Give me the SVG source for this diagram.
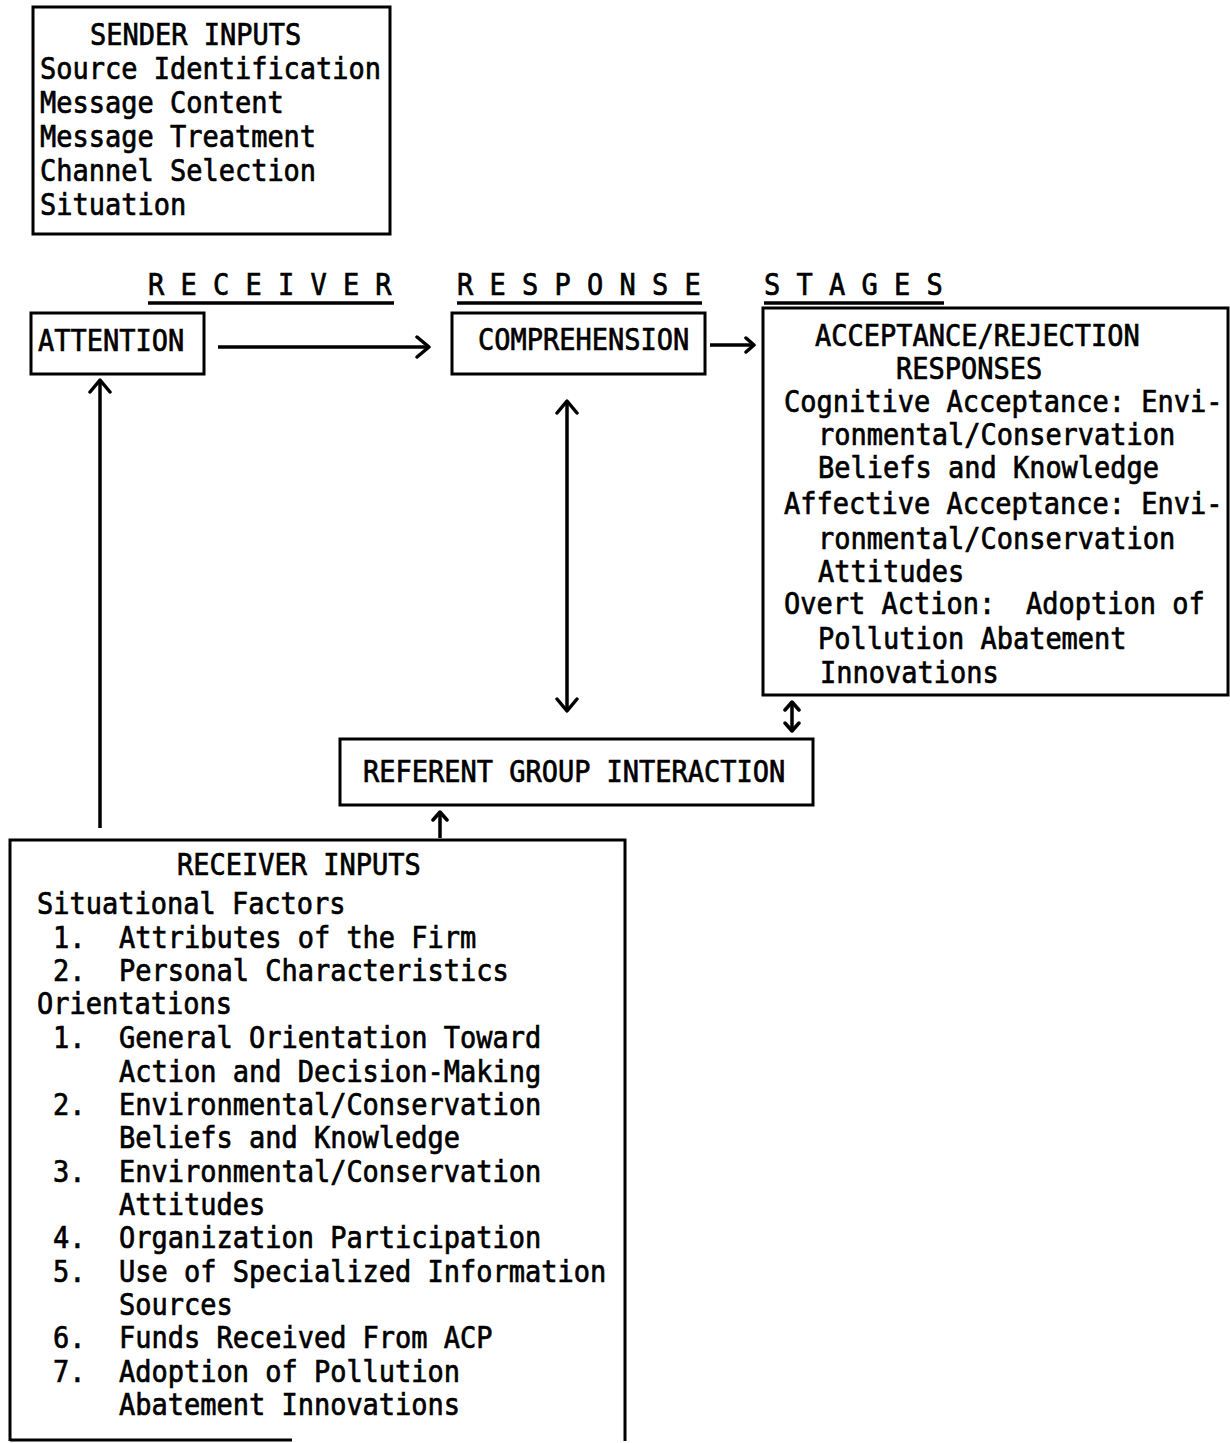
<svg xmlns="http://www.w3.org/2000/svg" width="1230" height="1443" viewBox="0 0 1230 1443">
<defs>
<style>
.box{fill:none;stroke:#000;stroke-width:3}
.ln{fill:none;stroke:#000;stroke-width:3.5}
text{font-family:"DejaVu Sans Mono","Liberation Mono",monospace;font-size:30px;fill:#000;stroke:#000;stroke-width:0.7;transform-box:fill-box;transform-origin:0% 100%;transform:scaleX(0.9)}
</style>
<marker id="ah" viewBox="-14 -12 16 24" markerWidth="16" markerHeight="24" refX="0" refY="0" orient="auto-start-reverse" markerUnits="userSpaceOnUse">
<path d="M-12,-10 L0,0 L-12,10" fill="none" stroke="#000" stroke-width="3.5" stroke-linecap="round" stroke-linejoin="round"/>
</marker>
<marker id="ahs" viewBox="-10 -9 12 18" markerWidth="12" markerHeight="18" refX="0" refY="0" orient="auto-start-reverse" markerUnits="userSpaceOnUse">
<path d="M-8,-7 L0,0 L-8,7" fill="none" stroke="#000" stroke-width="3.5" stroke-linecap="round" stroke-linejoin="round"/>
</marker>
</defs>
<rect width="1230" height="1443" fill="#fff"/>

<g id="sender-inputs">
<rect class="box" x="33" y="7" width="357" height="227"/>
<text x="90" y="45">SENDER INPUTS</text>
<text x="40" y="79">Source Identification</text>
<text x="40" y="113">Message Content</text>
<text x="40" y="147">Message Treatment</text>
<text x="40" y="181">Channel Selection</text>
<text x="40" y="215">Situation</text>
</g>

<g id="stage-header">
<text x="148" y="295">R E C E I V E R</text>
<text x="457" y="295">R E S P O N S E</text>
<text x="764" y="295">S T A G E S</text>
<line class="ln" x1="148" y1="303" x2="394" y2="303"/>
<line class="ln" x1="457" y1="303" x2="702" y2="303"/>
<line class="ln" x1="764" y1="303" x2="944" y2="303"/>
</g>

<g id="attention">
<rect class="box" x="31" y="313" width="173" height="61"/>
<text x="38" y="351">ATTENTION</text>
</g>

<g id="comprehension">
<rect class="box" x="452" y="313" width="253" height="61"/>
<text x="478" y="350">COMPREHENSION</text>
</g>

<g id="acceptance-rejection">
<rect class="box" x="763" y="308" width="465" height="387"/>
<text x="815" y="346">ACCEPTANCE/REJECTION</text>
<text x="896" y="379">RESPONSES</text>
<text x="784" y="412">Cognitive Acceptance: Envi-</text>
<text x="818" y="445">ronmental/Conservation</text>
<text x="818" y="478">Beliefs and Knowledge</text>
<text x="784" y="514">Affective Acceptance: Envi-</text>
<text x="818" y="549">ronmental/Conservation</text>
<text x="818" y="582">Attitudes</text>
<text x="784" y="614">Overt Action:</text><text x="1026" y="614">Adoption of</text>
<text x="818" y="649">Pollution Abatement</text>
<text x="820" y="683">Innovations</text>
</g>

<g id="referent-group">
<rect class="box" x="340" y="739" width="473" height="66"/>
<text x="363" y="782">REFERENT GROUP INTERACTION</text>
</g>

<g id="receiver-inputs">
<path class="box" d="M10,1441 L10,840 L625,840 L625,1441 M10,1440 L292,1440"/>
<text x="177" y="875">RECEIVER INPUTS</text>
<text x="37" y="914">Situational Factors</text>
<text x="53" y="948">1.</text><text x="119" y="948">Attributes of the Firm</text>
<text x="53" y="981">2.</text><text x="119" y="981">Personal Characteristics</text>
<text x="37" y="1014">Orientations</text>
<text x="53" y="1048">1.</text><text x="119" y="1048">General Orientation Toward</text>
<text x="119" y="1082">Action and Decision-Making</text>
<text x="53" y="1115">2.</text><text x="119" y="1115">Environmental/Conservation</text>
<text x="119" y="1148">Beliefs and Knowledge</text>
<text x="53" y="1182">3.</text><text x="119" y="1182">Environmental/Conservation</text>
<text x="119" y="1215">Attitudes</text>
<text x="53" y="1248">4.</text><text x="119" y="1248">Organization Participation</text>
<text x="53" y="1282">5.</text><text x="119" y="1282">Use of Specialized Information</text>
<text x="119" y="1315">Sources</text>
<text x="53" y="1348">6.</text><text x="119" y="1348">Funds Received From ACP</text>
<text x="53" y="1382">7.</text><text x="119" y="1382">Adoption of Pollution</text>
<text x="119" y="1415">Abatement Innovations</text>
</g>

<g id="connectors">
<line class="ln" x1="218" y1="347" x2="429" y2="347" marker-end="url(#ah)"/>
<line class="ln" x1="710" y1="345" x2="754" y2="345" marker-end="url(#ahs)"/>
<line class="ln" x1="100" y1="828" x2="100" y2="380" marker-end="url(#ah)"/>
<line class="ln" x1="567" y1="401" x2="567" y2="711" marker-start="url(#ah)" marker-end="url(#ah)"/>
<line class="ln" x1="792" y1="702" x2="792" y2="731" marker-start="url(#ahs)" marker-end="url(#ahs)"/>
<line class="ln" x1="440" y1="838" x2="440" y2="812" marker-end="url(#ahs)"/>
</g>
</svg>
